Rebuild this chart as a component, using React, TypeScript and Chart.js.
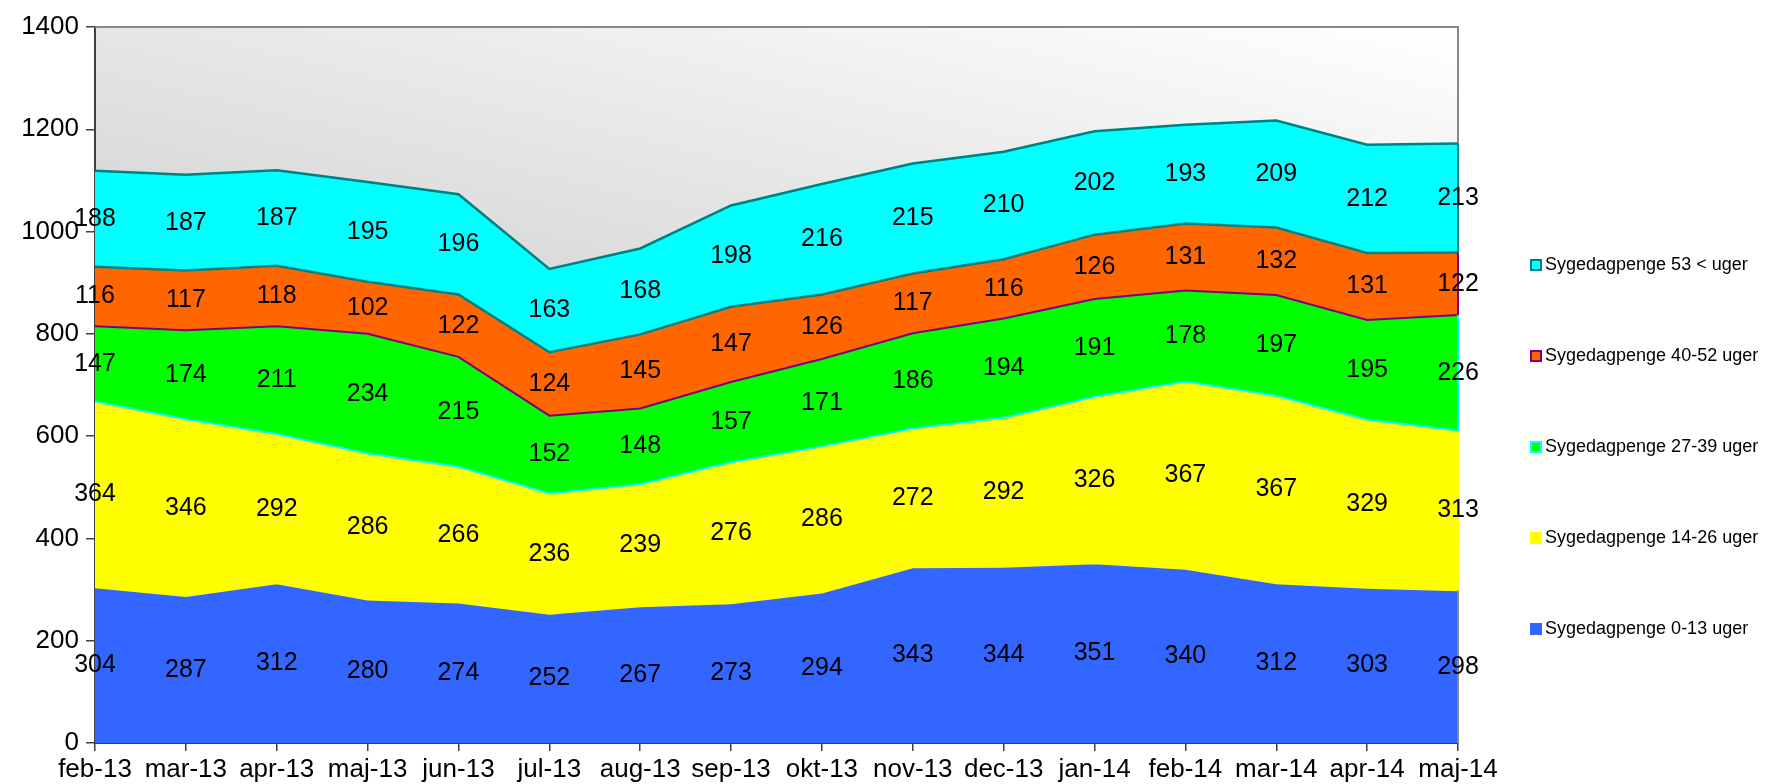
import React, { useEffect, useRef } from 'react';
import { Chart, registerables } from 'chart.js';

Chart.register(...registerables);

const categories = ['feb-13', 'mar-13', 'apr-13', 'maj-13', 'jun-13', 'jul-13', 'aug-13', 'sep-13', 'okt-13', 'nov-13', 'dec-13', 'jan-14', 'feb-14', 'mar-14', 'apr-14', 'maj-14'];

const seriesNames = ['Sygedagpenge 0-13 uger', 'Sygedagpenge 14-26 uger', 'Sygedagpenge 27-39 uger', 'Sygedagpenge 40-52 uger', 'Sygedagpenge 53 < uger'];

const s0to13 = [304, 287, 312, 280, 274, 252, 267, 273, 294, 343, 344, 351, 340, 312, 303, 298];
const s14to26 = [364, 346, 292, 286, 266, 236, 239, 276, 286, 272, 292, 326, 367, 367, 329, 313];
const s27to39 = [147, 174, 211, 234, 215, 152, 148, 157, 171, 186, 194, 191, 178, 197, 195, 226];
const s40to52 = [116, 117, 118, 102, 122, 124, 145, 147, 126, 117, 116, 126, 131, 132, 131, 122];
const s53plus = [188, 187, 187, 195, 196, 163, 168, 198, 216, 215, 210, 202, 193, 209, 212, 213];

const yTicks = [0, 200, 400, 600, 800, 1000, 1200, 1400];

const fillColors = ['#3366FF', '#FFFF00', '#00FF00', '#FF6600', '#00FFFF'];
// outline colour of each band (legend + band edges)
const outlineColors = ['#3366FF', '#FFFF00', '#00FFFF', '#800080', '#008080'];
// the top edge of each band shows the outline of the band above it
const topLineColors = ['#FFFF00', '#00FFFF', '#800080', '#008080', '#008080'];
const topLineWidths = [1.5, 2, 2, 2.5, 2.5];

const FONT = '"Liberation Sans", Arial, sans-serif';

export default function App() {
  const ref = useRef<HTMLCanvasElement>(null);

  useEffect(() => {
    document.body.style.margin = '0';
    const canvas = ref.current;
    if (!canvas) return;
    const allSeries = [s0to13, s14to26, s27to39, s40to52, s53plus];

    const bgPlugin = {
      id: 'bgPlugin',
      beforeDraw(chart: any) {
        const { ctx, chartArea } = chart;
        const { left, top, right, bottom } = chartArea;
        const ux = 0.2265;
        const uy = -0.974;
        const s0 = -700;
        const s1 = 304;
        const g = ctx.createLinearGradient(left + s0 * ux, top + s0 * uy, left + s1 * ux, top + s1 * uy);
        g.addColorStop(0, '#acacac');
        g.addColorStop(1, '#ffffff');
        ctx.save();
        ctx.fillStyle = g;
        ctx.fillRect(left, top, right - left, bottom - top);
        ctx.restore();
      },
      afterDatasetsDraw(chart: any) {
        const { ctx, chartArea } = chart;
        const xs = chart.scales.x;
        const ys = chart.scales.y;
        ctx.save();
        // plot frame top + right
        ctx.strokeStyle = '#888888';
        ctx.lineWidth = 2;
        ctx.beginPath();
        ctx.moveTo(chartArea.left, chartArea.top);
        ctx.lineTo(chartArea.right, chartArea.top);
        ctx.lineTo(chartArea.right, chartArea.bottom);
        ctx.stroke();
        // right edge of each band in its outline colour
        const last = categories.length - 1;
        const xr = xs.getPixelForValue(last);
        let b = 0;
        for (let i = 0; i < allSeries.length; i++) {
          const v = allSeries[i][last];
          if (i > 0) {
            ctx.strokeStyle = outlineColors[i];
            ctx.lineWidth = 2;
            ctx.beginPath();
            ctx.moveTo(xr, ys.getPixelForValue(b));
            ctx.lineTo(xr, ys.getPixelForValue(b + v));
            ctx.stroke();
          }
          b += v;
        }
        // data labels
        ctx.font = `25px ${FONT}`;
        ctx.fillStyle = '#000000';
        ctx.textAlign = 'center';
        ctx.textBaseline = 'middle';
        for (let j = 0; j < categories.length; j++) {
          let base = 0;
          for (let i = 0; i < allSeries.length; i++) {
            const v = allSeries[i][j];
            const x = xs.getPixelForValue(j);
            const y = ys.getPixelForValue(base + v / 2);
            ctx.fillText(String(v), x, y);
            base += v;
          }
        }
        ctx.restore();
      },
      afterDraw(chart: any) {
        const { ctx } = chart;
        ctx.save();
        ctx.font = `18px ${FONT}`;
        ctx.textAlign = 'left';
        ctx.textBaseline = 'middle';
        const order = [4, 3, 2, 1, 0];
        order.forEach((idx, k) => {
          const cy = 265 + k * 91;
          ctx.fillStyle = fillColors[idx];
          ctx.fillRect(1531, cy - 5, 10, 10);
          ctx.strokeStyle = outlineColors[idx];
          ctx.lineWidth = 2;
          ctx.strokeRect(1531, cy - 5, 10, 10);
          ctx.fillStyle = '#000000';
          ctx.fillText(seriesNames[idx], 1545, cy);
        });
        ctx.restore();
      },
    };

    const chart = new Chart(canvas, {
      type: 'line',
      data: {
        labels: categories,
        datasets: allSeries.map((d, i) => ({
          label: seriesNames[i],
          data: d,
          backgroundColor: fillColors[i],
          borderColor: topLineColors[i],
          borderWidth: topLineWidths[i],
          fill: i === 0 ? 'origin' : '-1',
          pointRadius: 0,
          tension: 0,
        })),
      },
      options: {
        responsive: false,
        animation: false,
        devicePixelRatio: 1,
        layout: { padding: { left: 12, right: 310, top: 27, bottom: 0 } },
        plugins: {
          legend: { display: false },
          tooltip: { enabled: false },
        },
        scales: {
          x: {
            offset: false,
            grid: { display: true, drawOnChartArea: false, drawTicks: true, tickLength: 8, color: '#404040', lineWidth: 1.5 },
            border: { display: true, color: '#404040', width: 2 },
            ticks: { font: { size: 26, family: FONT }, color: '#000000', padding: 3, maxRotation: 0, autoSkip: false },
            afterFit: (s: any) => { s.height = 41; },
          },
          y: {
            stacked: true,
            min: 0,
            max: 1400,
            afterBuildTicks: (s: any) => { s.ticks = yTicks.map((v) => ({ value: v })); },
            grid: { display: true, drawOnChartArea: false, drawTicks: true, tickLength: 9, color: '#404040', lineWidth: 1.5 },
            border: { display: true, color: '#404040', width: 2 },
            ticks: { font: { size: 26, family: FONT }, color: '#000000', padding: 7, callback: (v: any) => String(v) },
            afterFit: (s: any) => { s.width = 83; },
          },
        },
      },
      plugins: [bgPlugin],
    });
    return () => chart.destroy();
  }, []);

  return (
    <div style={{ width: 1768, height: 784 }}>
      <canvas ref={ref} width={1768} height={784} style={{ display: 'block' }} />
    </div>
  );
}
